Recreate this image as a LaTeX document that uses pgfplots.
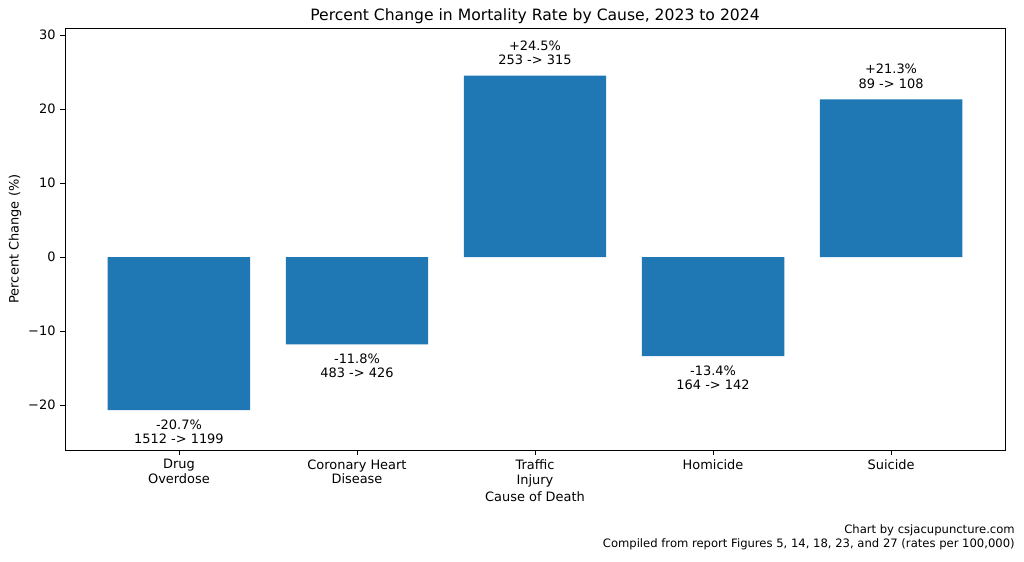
\documentclass[border=0pt]{standalone}
\usepackage{fontspec}
\setmainfont{DejaVu Sans}
\usepackage{pgfplots}
\pgfplotsset{compat=1.18}
\definecolor{barblue}{RGB}{31,119,180}
\begin{document}
\begin{tikzpicture}
\begin{axis}[
  scale only axis,
  width=705pt, height=316.5pt,
  at={(0,0)}, anchor=south west,
  ybar, bar width=0.8, bar shift=0pt,
  xmin=-0.64, xmax=4.64,
  ymin=-26.08, ymax=30.95,
  xtick={0,1,2,3,4},
  xticklabels={{Drug\\Overdose},{Coronary Heart\\Disease},{Traffic\\Injury},{Homicide},{Suicide}},
  xticklabel style={align=center, font=\fontsize{9.7}{11}\selectfont},
  ytick={-20,-10,0,10,20,30},
  yticklabels={−20,−10,0,10,20,30},
  yticklabel style={font=\fontsize{9.7}{11}\selectfont},
  tick align=outside, tick pos=left,
  major tick length=3.6pt,
  every tick/.style={black, line width=0.6pt},
  axis line style={line width=0.6pt},
  xlabel={Cause of Death},
  ylabel={Percent Change (\%)},
  xlabel style={yshift=3pt},
  ylabel style={yshift=-1.75pt},
  label style={font=\fontsize{9.7}{11}\selectfont},
  title={Percent Change in Mortality Rate by Cause, 2023 to 2024},
  title style={font=\fontsize{11.7}{13}\selectfont, yshift=-6pt},
  point meta=explicit symbolic,
  nodes near coords,
  every node near coord/.append style={align=center, font=\fontsize{9.7}{11}\selectfont, black},
]
\addplot[fill=barblue, draw=none,
  every node near coord/.append style={anchor=south, yshift=4.5pt}]
  coordinates {
  (2,24.5) [{+24.5\%\\253 -> 315}]
  (4,21.3) [{+21.3\%\\89 -> 108}]
};
\addplot[fill=barblue, draw=none,
  every node near coord/.append style={anchor=north, yshift=-3.5pt}]
  coordinates {
  (0,-20.7) [{-20.7\%\\1512 -> 1199}]
  (1,-11.8) [{-11.8\%\\483 -> 426}]
  (3,-13.4) [{-13.4\%\\164 -> 142}]
};
\end{axis}
\node[anchor=north east, align=right, font=\fontsize{8.7}{11}\selectfont, inner sep=0pt]
  at (705pt+7.5pt,-55.5pt) {Chart by csjacupuncture.com\\Compiled from report Figures 5, 14, 18, 23, and 27 (rates per 100,000)};
\pgfresetboundingbox
\path (-48.75pt,-83.25pt) rectangle (719.25pt,337.5pt);
\end{tikzpicture}
\end{document}
